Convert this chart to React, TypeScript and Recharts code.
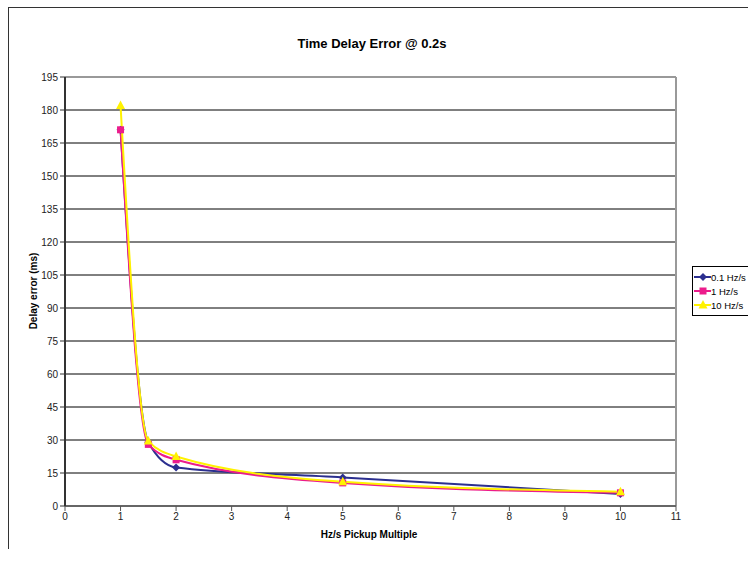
import { LineChart, Line, XAxis, YAxis, CartesianGrid, ReferenceLine } from "recharts";

// ─── Data ─────────────────────────────────────────────────────────────────────
const MULTIPLES = [1, 1.5, 2, 5, 10];
const SLOW = [171, 29, 17.5, 13, 5.5]; // 0.1 Hz/s
const MID = [171, 28, 21, 10.5, 6]; // 1 Hz/s
const FAST = [182, 29.5, 22.5, 11, 6.5]; // 10 Hz/s
const X_TICKS = [0, 1, 2, 3, 4, 5, 6, 7, 8, 9, 10, 11];
const Y_TICKS = [0, 15, 30, 45, 60, 75, 90, 105, 120, 135, 150, 165, 180, 195];

const SERIES = [
  { key: "slow", name: "0.1 Hz/s", color: "#2B2F8F", shape: "diamond" },
  { key: "mid", name: "1 Hz/s", color: "#EC1C8C", shape: "square" },
  { key: "fast", name: "10 Hz/s", color: "#FFF200", shape: "triangle" },
];

const rows = MULTIPLES.map((x, i) => ({ x, slow: SLOW[i], mid: MID[i], fast: FAST[i] }));

const FONT = "'Liberation Sans', Arial, sans-serif";
const tickStyle = { fontFamily: FONT, fontSize: 10, fill: "#222" };

// ─── Markers ──────────────────────────────────────────────────────────────────
function Marker({ cx, cy, shape, color }: any) {
  if (cx == null || cy == null) return null;
  if (shape === "diamond")
    return <polygon points={`${cx},${cy - 4} ${cx + 4},${cy} ${cx},${cy + 4} ${cx - 4},${cy}`} fill={color} />;
  if (shape === "square") return <rect x={cx - 3.5} y={cy - 3.5} width={7} height={7} fill={color} />;
  return <polygon points={`${cx},${cy - 5} ${cx + 4.5},${cy + 3.5} ${cx - 4.5},${cy + 3.5}`} fill={color} />;
}

function LegendBox() {
  return (
    <div
      style={{
        position: "absolute", left: 692, top: 266, width: 56, border: "1px solid #000", background: "#fff",
        padding: "3px 1px", fontFamily: FONT, fontSize: 9.5,
      }}
    >
      {SERIES.map((s) => (
        <div key={s.key} style={{ display: "flex", alignItems: "center", height: 14 }}>
          <svg width={17} height={10} style={{ flexShrink: 0 }}>
            <line x1={0} y1={5} x2={17} y2={5} stroke={s.color} strokeWidth={2} />
            <Marker cx={9} cy={5} shape={s.shape} color={s.color} />
          </svg>
          <span style={{ whiteSpace: "nowrap" }}>{s.name}</span>
        </div>
      ))}
    </div>
  );
}

export default function App() {
  return (
    <div style={{ position: "fixed", left: 0, top: 0, width: 748, height: 561, overflow: "hidden", background: "#fff" }}>
      <div style={{ position: "absolute", left: 8, top: 7, width: 760, height: 541, borderLeft: "1px solid #333", borderTop: "1px solid #333" }} />
      <div style={{ position: "absolute", left: 0, top: 36, width: 744, textAlign: "center", fontFamily: FONT, fontWeight: "bold", fontSize: 13 }}>
        Time Delay Error @ 0.2s
      </div>
      <div
        style={{
          position: "absolute", left: 33, top: 291, transform: "translate(-50%, -50%) rotate(-90deg)",
          fontFamily: FONT, fontWeight: "bold", fontSize: 10, whiteSpace: "nowrap",
        }}
      >
        Delay error (ms)
      </div>
      <div style={{ position: "absolute", left: 0, top: 529, width: 738, textAlign: "center", fontFamily: FONT, fontWeight: "bold", fontSize: 10 }}>
        Hz/s Pickup Multiple
      </div>
      <LineChart width={748} height={561} data={rows} margin={{ top: 77, right: 72, left: 20, bottom: 35 }}>
        <CartesianGrid vertical={false} stroke="#000" strokeWidth={1} />
        <XAxis
          dataKey="x" type="number" domain={[0, 11]} ticks={X_TICKS} height={20}
          tick={tickStyle} tickSize={5} stroke="#555" axisLine={{ stroke: "#666", strokeWidth: 2 }}
        />
        <YAxis
          type="number" domain={[0, 195]} ticks={Y_TICKS} width={45} interval={0}
          tick={tickStyle} tickSize={5} stroke="#333" axisLine={{ stroke: "#333", strokeWidth: 2 }}
        />
        <ReferenceLine y={195} stroke="#999" strokeWidth={2} />
        <ReferenceLine x={11} stroke="#999" strokeWidth={2} />
        {SERIES.map((s) => (
          <Line
            key={s.key}
            dataKey={s.key}
            name={s.name}
            type="monotone"
            stroke={s.color}
            strokeWidth={2}
            dot={(p: any) => <Marker key={`${s.key}-${p.index}`} cx={p.cx} cy={p.cy} shape={s.shape} color={s.color} />}
            activeDot={false}
            isAnimationActive={false}
          />
        ))}
      </LineChart>
      <LegendBox />
    </div>
  );
}
